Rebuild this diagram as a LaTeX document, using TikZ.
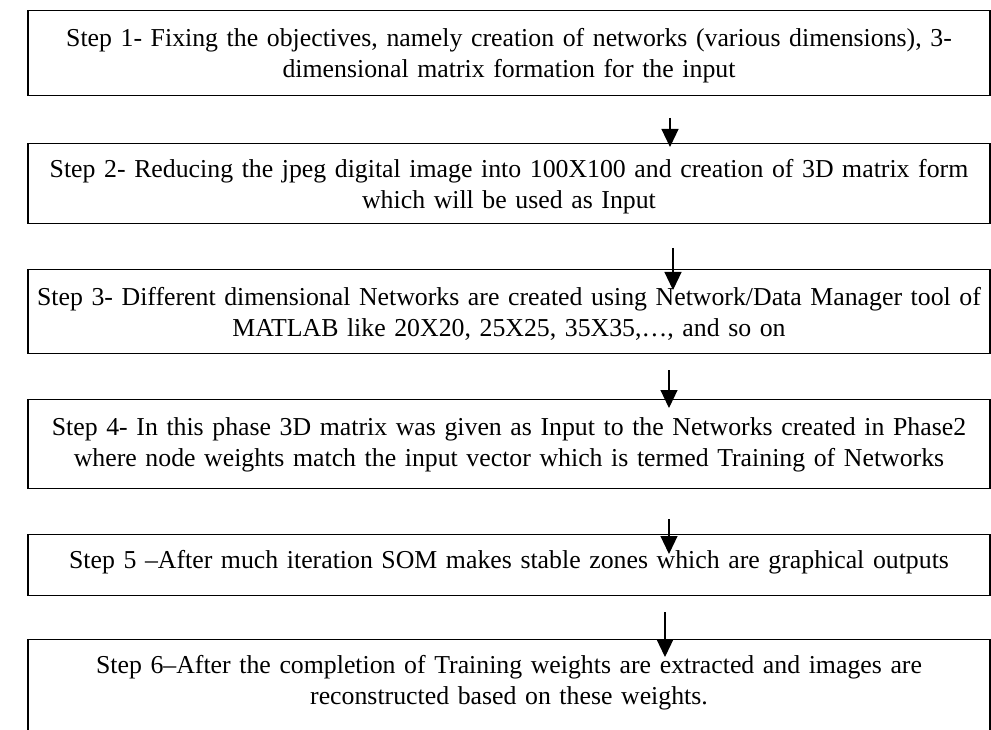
\documentclass[tikz,border=0pt]{standalone}
\usepackage{fontspec}
\setmainfont{Liberation Serif}
\usetikzlibrary{arrows.meta}
\newcommand{\topstrut}[1]{\rule{0pt}{#1pt}}
\newcommand{\botstrut}[1]{\rule[-#1pt]{0pt}{0pt}}
\newcommand{\fullline}[1]{\makebox[962pt]{#1}}
\tikzset{
  stepbox/.style={draw, line width=1.2pt, inner sep=0pt, text width=962pt,
    align=center, anchor=north,
    font=\fontsize{25.8pt}{31pt}\selectfont},
  flowarrow/.style={line width=1.2pt, -{Triangle[length=18pt,width=17pt]}}
}
\begin{document}
\begin{tikzpicture}[x=1pt,y=-1pt]
\useasboundingbox (0,0) rectangle (991,730);
\clip (0,0) rectangle (991,730);
\node[stepbox] (s1) at (509,10) {\fullline{\topstrut{36}Step 1- Fixing the objectives, namely creation of networks (various dimensions), 3-}\\\fullline{dimensional matrix formation for the input\botstrut{18}}};
\node[stepbox] (s2) at (509,143) {\fullline{\topstrut{34}Step 2- Reducing the jpeg digital image into 100X100 and creation of 3D matrix form}\\\fullline{which will be used as Input\botstrut{15}}};
\node[stepbox] (s3) at (509,269) {\fullline{\topstrut{36}Step 3- Different dimensional Networks are created using Network/Data Manager tool of}\\\fullline{MATLAB like 20X20, 25X25, 35X35,…, and so on\botstrut{17}}};
\node[stepbox] (s4) at (509,399) {\fullline{\topstrut{36}Step 4- In this phase 3D matrix was given as Input to the Networks created in Phase2}\\\fullline{where node weights match the input vector which is termed Training of Networks\botstrut{22}}};
\node[stepbox] (s5) at (509,534) {\fullline{\topstrut{34}Step 5 –After much iteration SOM makes stable zones which are graphical outputs\botstrut{27}}};
\node[stepbox] (s6) at (509,639) {\fullline{\topstrut{34}Step 6–After the completion of Training weights are extracted and images are}\\\fullline{reconstructed based on these weights.\botstrut{60}}};
\coordinate (a1) at (670,118);
\coordinate (e1) at (670,147);
\coordinate (a2) at (673,248);
\coordinate (e2) at (673,290);
\coordinate (a3) at (669,370);
\coordinate (e3) at (669,408);
\coordinate (a4) at (669,519);
\coordinate (e4) at (669,554);
\coordinate (a5) at (665,612);
\coordinate (e5) at (665,657);
\draw[flowarrow] (a1) -- (e1);
\draw[flowarrow] (a2) -- (e2);
\draw[flowarrow] (a3) -- (e3);
\draw[flowarrow] (a4) -- (e4);
\draw[flowarrow] (a5) -- (e5);
\end{tikzpicture}
\end{document}
